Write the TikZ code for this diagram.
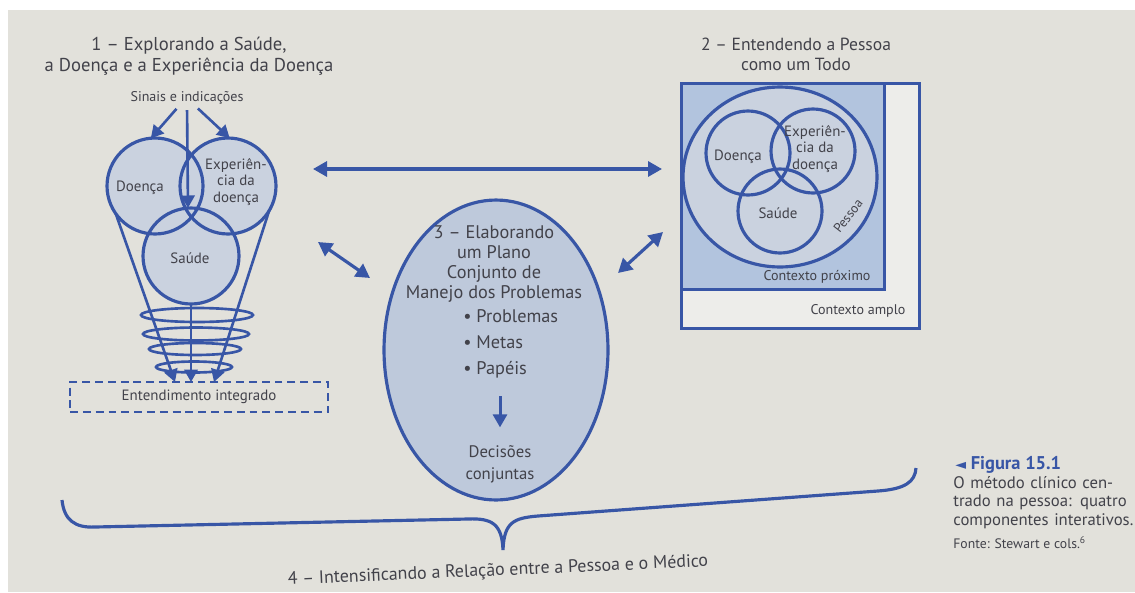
\documentclass[tikz,border=0pt]{standalone}
\usepackage{fontspec}
\setmainfont{PT Sans}
\newfontfamily\symb{DejaVu Sans}
\usetikzlibrary{positioning, shapes.geometric, arrows.meta}
\definecolor{ink}{RGB}{56,86,166}
\definecolor{paper}{RGB}{226,225,219}
\definecolor{pale}{RGB}{237,237,234}
\definecolor{venn}{RGB}{202,210,223}
\definecolor{near}{RGB}{178,196,222}
\definecolor{plan}{RGB}{190,201,219}
\definecolor{txt}{RGB}{66,66,74}

\begin{document}
\begin{tikzpicture}[
    x=0.02cm, y=-0.02cm,
    node distance=2pt,
    lbl/.style={text=txt, font=\fontsize{8.5}{9.2}\selectfont, align=center, inner sep=0pt},
    head/.style={text=txt, font=\fontsize{10}{11.4}\selectfont, align=center, inner sep=0pt},
    captext/.style={text=txt, font=\fontsize{9.5}{10.5}\selectfont, inner sep=0pt},
    setfill/.style={circle, fill=venn, inner sep=0pt, outer sep=0pt},
    setline/.style={draw=ink, line width=1.8pt},
    arrow/.style={draw=ink, line width=1.7pt, -{Triangle[length=2.6mm, width=2.8mm]}},
    funnel/.style={draw=ink, line width=1.5pt, -{Triangle[length=2.5mm, width=2.7mm]}},
    twoway/.style={draw=ink, line width=1.8pt, {Triangle[length=2.8mm, width=3mm]}-{Triangle[length=2.8mm, width=3mm]}},
    ring/.style={draw=ink, line width=1.5pt}
]
\fill[white] (0,0) rectangle (1135,592);
\fill[paper] (8,10) rectangle (1135,592);
\useasboundingbox (0,0) rectangle (1135,592);

% Part 1: Saude, doenca, experiencia (left)
\node[head, font=\fontsize{10.6}{12}\selectfont] (expl) at (189,56) {1 -- Explorando a Saúde,\\a Doença e a Experiência da Doença};
\node[lbl, font=\fontsize{8}{9}\selectfont] (sinais) at (187,98) {Sinais e indicações};
\node[setfill, minimum size=1.92cm] (doenca) at (155,186) {};
\node[setfill, minimum size=1.92cm] (exper) at (228,186) {};
\node[setfill, minimum size=1.92cm] (saude) at (191,256) {};
\draw[setline] (doenca.center) circle (0.96cm);
\draw[setline] (exper.center) circle (0.96cm);
\draw[setline] (saude.center) circle (0.96cm);
\node[lbl] (tdoenca) at (140,188) {Doença};
\node[lbl] (texper) at (236,182) {Experiên-\\cia da\\doença};
\node[lbl] (tsaude) at (190,258) {Saúde};
\coordinate (lens) at (188,208);

% the spiral
\draw[ring] (197,315) ellipse [x radius=56, y radius=7];
\draw[ring] (196,334) ellipse [x radius=53, y radius=6.5];
\draw[ring] (195,349) ellipse [x radius=46, y radius=6];
\draw[ring] (194,367) ellipse [x radius=38, y radius=5.5];

\node[lbl, font=\fontsize{8.5}{9}\selectfont, draw=ink, dashed, dash pattern=on 4.5pt off 2.8pt, line width=1.4pt,
      minimum width=5.16cm, minimum height=0.6cm] (integ) at (199,397) {Entendimento integrado};
\coordinate (tipL) at (175,382);
\coordinate (tipM) at (191,382);
\coordinate (tipR) at (214,382);

% Part 3: plano conjunto (center)
\node[ellipse, draw=ink, line width=1.8pt, fill=plan, minimum width=4.48cm, minimum height=6cm] (plano) at (496,350) {};
\node[head, font=\fontsize{10.4}{11.4}\selectfont] (tplano) at (494,264) {3 -- Elaborando\\um Plano\\Conjunto de\\Manejo dos Problemas};
\node[head, align=left, anchor=west, font=\fontsize{10.4}{14.8}\selectfont] (metas) at (463,344) {• Problemas\\• Metas\\• Papéis};
\node[head, font=\fontsize{9.5}{12.5}\selectfont] (decis) at (500,464) {Decisões\\conjuntas};

% Part 2: a pessoa como um todo (right)
\node[head] (todo) at (796,54) {2 -- Entendendo a Pessoa\\como um Todo};
\node[draw=ink, line width=1.8pt, fill=pale, minimum width=4.76cm, minimum height=4.9cm, inner sep=0pt, anchor=north west] (amplo) at (680,82) {};
\node[draw=ink, line width=1.8pt, fill=near, minimum width=4.06cm, minimum height=4.12cm, inner sep=0pt, anchor=north west] (proximo) at (680,82) {};
\node[ellipse, draw=ink, line width=1.8pt, fill=venn, minimum width=3.88cm, minimum height=3.6cm] (pessoa) at (780,177) {};
\node[setfill, minimum size=1.68cm] (pdoenca) at (748,153) {};
\node[setfill, minimum size=1.68cm] (pexper) at (813,151) {};
\node[setfill, minimum size=1.68cm] (psaude) at (780,211) {};
\draw[setline] (pdoenca.center) circle (0.84cm);
\draw[setline] (pexper.center) circle (0.84cm);
\draw[setline] (psaude.center) circle (0.84cm);
\node[lbl] (tpdoenca) at (738,157) {Doença};
\node[lbl] (tpexper) at (815,149) {Experiên-\\cia da\\doença};
\node[lbl] (tpsaude) at (778,213) {Saúde};
\node[lbl, font=\fontsize{7.5}{9}\selectfont, rotate=52] (tpessoa) at (848,216) {Pessoa};
\node[lbl, font=\fontsize{8}{9}\selectfont] (tprox) at (817,277) {Contexto próximo};
\node[lbl, font=\fontsize{8}{9}\selectfont] (tampl) at (858,311) {Contexto amplo};

% Part 4: relacao (brace)
\coordinate (cusp) at (503,550);
\draw[ink, line width=1.8pt] (62,500) .. controls (64,520) and (75,528) .. (95,527) -- (468,519)
    .. controls (492,518) and (502,524) .. (cusp)
    .. controls (504,522) and (514,518) .. (538,516) -- (878,491)
    .. controls (905,489) and (915,482) .. (916,468);
\node[head, font=\fontsize{10.2}{11}\selectfont, rotate=2.5] (relacao) at (498,571) {4 -- Intensificando a Relação entre a Pessoa e o Médico};

% Caption
\node[anchor=west, text=ink, font=\bfseries\fontsize{10.5}{12}\selectfont, inner sep=0pt] (fig) at (955,465) {{\symb\footnotesize ◄} Figura 15.1};
\node[captext, anchor=north west, text width=3.6cm, align=left] (capbody) at (953,476)
    {\makebox[\linewidth][s]{O método clínico cen-}\\\makebox[\linewidth][s]{trado na pessoa: quatro}\\componentes interativos.};
\node[captext, font=\fontsize{7.8}{9}\selectfont, below=4pt of capbody.south west, anchor=north west] (fonte) {Fonte: Stewart e cols.\textsuperscript{6}};

% Edges
\draw[funnel, shorten <=3pt] ([xshift=-4pt]sinais.south) -- (doenca.95);
\draw[funnel, shorten <=3pt] ([xshift=4pt]sinais.south) -- (exper.88);
\draw[funnel, shorten <=3pt] (sinais.south) -- (lens);
\draw[funnel] (doenca.215) -- (tipL);
\draw[funnel] (saude.south) -- (tipM);
\draw[funnel] (exper.329) -- (tipR);

\coordinate (hL) at (313,169);
\coordinate (hR) at (662,169);
\coordinate (dL1) at (318,242);
\coordinate (dL2) at (370,278);
\coordinate (dR1) at (618,273);
\coordinate (dR2) at (663,232);
\draw[twoway] (hL) -- (hR);
\draw[twoway] (dL1) -- (dL2);
\draw[twoway] (dR1) -- (dR2);

\draw[arrow, shorten <=10pt, shorten >=10pt] (metas.south -| decis.north) -- (decis.north);

\end{tikzpicture}
\end{document}
